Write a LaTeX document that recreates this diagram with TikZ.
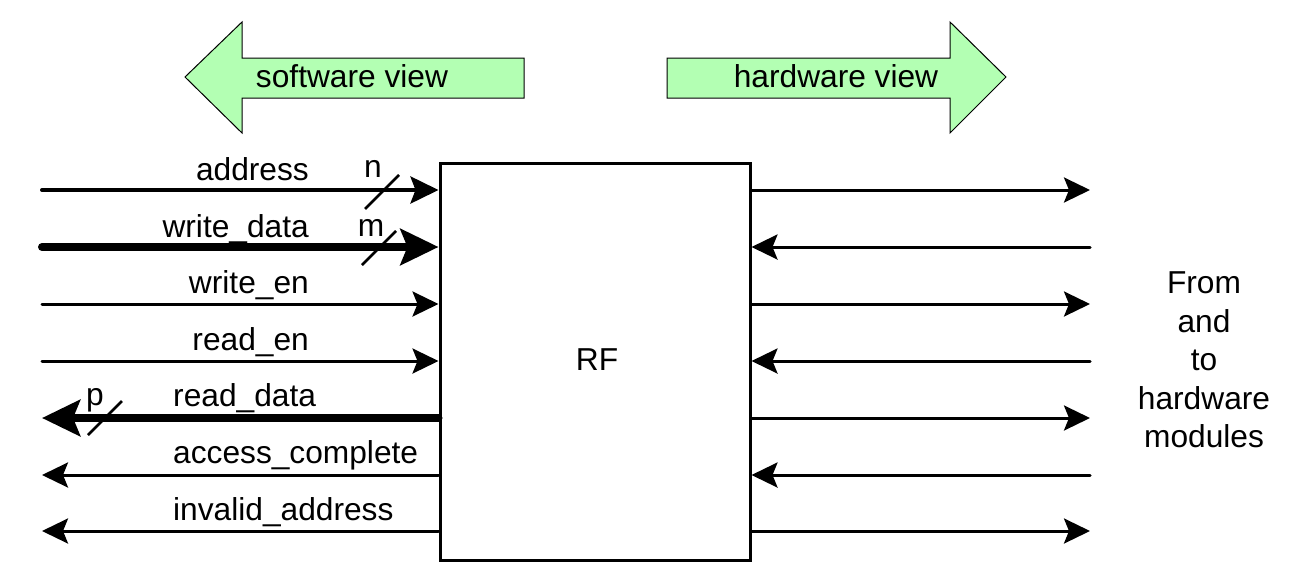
\documentclass[tikz,border=0pt]{standalone}
\usepackage{fontspec}
\setmainfont{Liberation Sans}
\usetikzlibrary{arrows.meta,calc}
\definecolor{viewgreen}{RGB}{179,255,179}
\begin{document}
\begin{tikzpicture}[x=1pt,y=-1pt,
  txt/.style={font=\fontsize{31.7}{38.5}\selectfont, inner sep=0pt},
  lbl/.style={txt, anchor=base},
  viewarrow/.style={draw=black, line width=1pt, fill=viewgreen, line join=miter},
  thinsig/.style={line width=3pt, line cap=round, -{Stealth[length=26pt,width=25pt,inset=5pt]}},
  midsig/.style={line width=4pt, line cap=round, -{Stealth[length=28pt,width=27pt,inset=5pt]}},
  thicksig/.style={line width=8pt, line cap=round, -{Stealth[length=38pt,width=36pt,inset=7pt]}},
  buswidth/.style={line width=2.5pt}
]
\useasboundingbox (0,0) rectangle (1303,584);

% view arrows
\draw[viewarrow] (185,77) -- (242,22) -- (242,58) -- (524,58) -- (524,98) -- (242,98) -- (242,133) -- cycle;
\node[lbl] (sw) at (352,87) {software view};
\draw[viewarrow] (1006,77) -- (950,22) -- (950,58) -- (667,58) -- (667,98) -- (950,98) -- (950,133) -- cycle;
\node[lbl] (hw) at (836,87) {hardware view};

% RF block
\node[draw, line width=3pt, minimum width=310pt, minimum height=397pt, inner sep=0pt, txt] (rf) at (595,361.5) {};
\node[txt] (rflbl) at (597,360) {RF};

% left side signals
\coordinate (l1) at (42,190);
\coordinate (l2) at (42,247);
\coordinate (l3) at (42,304);
\coordinate (l4) at (42,361);
\coordinate (l5) at (42,418);
\coordinate (l6) at (42,475);
\coordinate (l7) at (42,531);

\draw[midsig] (l1) -- (l1 -| rf.west);
\draw[thicksig] (l2) -- (l2 -| rf.west);
\draw[thinsig] (l3) -- (l3 -| rf.west);
\draw[thinsig] (l4) -- (l4 -| rf.west);
\draw[thicksig] (l5 -| rf.west) -- (l5);
\draw[thinsig] (l6 -| rf.west) -- (l6);
\draw[thinsig] (l7 -| rf.west) -- (l7);

\node[lbl, anchor=base east] (t1) at (309,180) {address};
\node[lbl, anchor=base east] (t2) at (309,237) {write\_data};
\node[lbl, anchor=base east] (t3) at (309,293) {write\_en};
\node[lbl, anchor=base east] (t4) at (309,350) {read\_en};
\node[lbl, anchor=base west] (t5) at (173,406) {read\_data};
\node[lbl, anchor=base west] (t6) at (173,463) {access\_complete};
\node[lbl, anchor=base west] (t7) at (173,520) {invalid\_address};

% bus width marks
\coordinate (s1) at (382,192);
\draw[buswidth] ($(s1)+(-17,17)$) -- ($(s1)+(17,-17)$);
\node[lbl] (n1) at (373,177) {n};
\coordinate (s2) at (379,248);
\draw[buswidth] ($(s2)+(-17,17)$) -- ($(s2)+(17,-17)$);
\node[lbl] (n2) at (371,236) {m};
\coordinate (s3) at (105,418);
\draw[buswidth] ($(s3)+(-17,17)$) -- ($(s3)+(17,-17)$);
\node[lbl] (n3) at (95,405) {p};

% right side signals
\coordinate (r1) at (1090,190);
\coordinate (r2) at (1090,247);
\coordinate (r3) at (1090,304);
\coordinate (r4) at (1090,361);
\coordinate (r5) at (1090,418);
\coordinate (r6) at (1090,475);
\coordinate (r7) at (1090,531);
\draw[thinsig] (r1 -| rf.east) -- (r1);
\draw[thinsig] (r2) -- (r2 -| rf.east);
\draw[thinsig] (r3 -| rf.east) -- (r3);
\draw[thinsig] (r4) -- (r4 -| rf.east);
\draw[thinsig] (r5 -| rf.east) -- (r5);
\draw[thinsig] (r6) -- (r6 -| rf.east);
\draw[thinsig] (r7 -| rf.east) -- (r7);

\node[txt, align=center] (hwmod) at (1204,360) {From\\and\\to\\hardware\\modules};
\end{tikzpicture}
\end{document}
